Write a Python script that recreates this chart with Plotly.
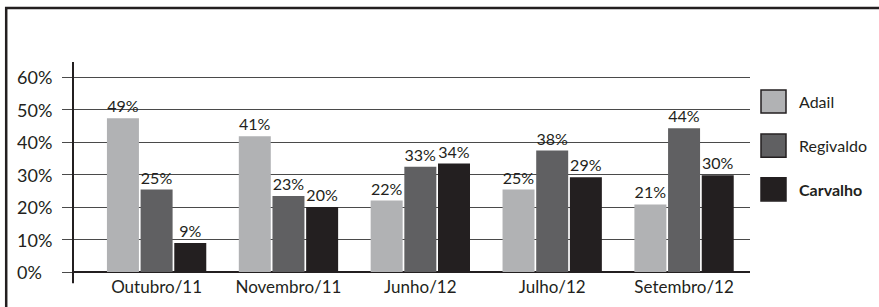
import plotly.graph_objects as go

categories = ["Outubro/11", "Novembro/11", "Junho/12", "Julho/12", "Setembro/12"]
series_names = ["Adail", "Regivaldo", "Carvalho"]
adail = [47.4, 41.8, 22, 25.4, 20.8]
regivaldo = [25.4, 23.4, 32.4, 37.4, 44.3]
carvalho = [8.9, 20, 33.4, 29.2, 29.8]
adail_labels = ["49%", "41%", "22%", "25%", "21%"]
regivaldo_labels = ["25%", "23%", "33%", "38%", "44%"]
carvalho_labels = ["9%", "20%", "34%", "29%", "30%"]
y_ticks = [0, 10, 20, 30, 40, 50, 60]
y_tick_labels = ["0%", "10%", "20%", "30%", "40%", "50%", "60%"]

colors = ["#b1b2b4", "#606062", "#231f20"]
ink = "#231f20"
FONT = "Lato"

W, H = 879, 307
L, R = 73, 750
T, B = 62, 271.7
pw, ph = R - L, B - T

def px(x):
    return (x - L) / pw

def py(y):
    return (B - y) / ph

fig = go.Figure()
for name, vals, labs, col in zip(series_names, [adail, regivaldo, carvalho],
                                 [adail_labels, regivaldo_labels, carvalho_labels], colors):
    fig.add_trace(go.Bar(
        x=categories, y=vals, name=name, marker=dict(color=col, line=dict(width=0)),
        text=labs, textposition="outside", cliponaxis=False,
        textfont=dict(family=FONT, size=16, color=ink),
    ))

shapes = []
# outer frame (top and left)
shapes.append(dict(type="line", xref="paper", yref="paper", x0=px(5), x1=px(879), y0=py(8), y1=py(8),
                   line=dict(color=ink, width=2.5)))
shapes.append(dict(type="line", xref="paper", yref="paper", x0=px(6.2), x1=px(6.2), y0=py(7), y1=py(310),
                   line=dict(color=ink, width=2.5)))
# y axis line extending below zero
shapes.append(dict(type="line", xref="paper", yref="paper", x0=0, x1=0, y0=py(283), y1=1,
                   line=dict(color=ink, width=2)))

annotations = []
for v, t in zip(y_ticks, y_tick_labels):
    annotations.append(dict(xref="paper", yref="y", x=px(15), y=v, text=t, showarrow=False,
                            xanchor="left", yanchor="middle",
                            font=dict(family=FONT, size=18, color=ink)))

# manual legend
box_tops = [90, 134, 177.7]
for name, col, top in zip(series_names, colors, box_tops):
    shapes.append(dict(type="rect", xref="paper", yref="paper", x0=px(761), x1=px(786),
                       y0=py(top), y1=py(top + 23), fillcolor=col,
                       line=dict(color=ink, width=1.5)))
    annotations.append(dict(xref="paper", yref="paper", x=px(797), y=py(top + 11.5),
                            text=("<b>%s</b>" % name) if name == "Carvalho" else name,
                            showarrow=False, xanchor="left", yanchor="middle",
                            font=dict(family=FONT, size=16, color=ink)))

fig.update_layout(
    width=W, height=H,
    margin=dict(l=L, r=W - R, t=T, b=H - B),
    paper_bgcolor="white", plot_bgcolor="white",
    barmode="group", bargap=0.234, bargroupgap=0.05,
    showlegend=False,
    shapes=shapes, annotations=annotations,
    xaxis=dict(range=[-0.634, 4.5], showgrid=False, zeroline=False, showline=False,
               ticks="", ticklabelstandoff=3, automargin=False,
               tickfont=dict(family=FONT, size=17, color=ink)),
    yaxis=dict(range=[0, 64.7], tickvals=y_ticks, showticklabels=False, automargin=False,
               showgrid=True, gridcolor="#4a4a4a", gridwidth=1,
               zeroline=True, zerolinecolor=ink, zerolinewidth=2,
               ticks="outside", ticklen=10, tickcolor="#4a4a4a", tickwidth=1,
               showline=False),
)

fig.write_html("out.html", config={"displayModeBar": False},
               post_script="document.body.style.margin='0';document.body.style.overflow='hidden';")
